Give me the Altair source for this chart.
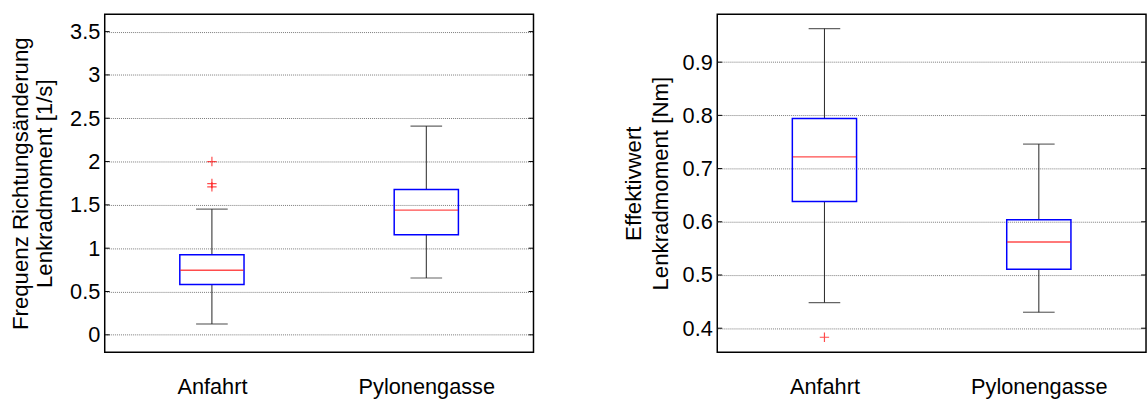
import altair as alt
import pandas as pd

categories = ["Anfahrt", "Pylonengasse"]

# Left panel: Frequenz Richtungsänderung Lenkradmoment [1/s]
freq_whisker_low = [0.125, 0.656]
freq_q1 = [0.580, 1.156]
freq_median = [0.746, 1.440]
freq_q3 = [0.924, 1.678]
freq_whisker_high = [1.451, 2.409]
freq_outlier_cat = ["Anfahrt", "Anfahrt", "Anfahrt"]
freq_outlier_val = [2.00, 1.746, 1.708]
freq_ticks = [0, 0.5, 1, 1.5, 2, 2.5, 3, 3.5]
freq_domain = [-0.2, 3.7]

# Right panel: Effektivwert Lenkradmoment [Nm]
rms_whisker_low = [0.448, 0.430]
rms_q1 = [0.638, 0.511]
rms_median = [0.722, 0.562]
rms_q3 = [0.794, 0.604]
rms_whisker_high = [0.963, 0.746]
rms_outlier_cat = ["Anfahrt"]
rms_outlier_val = [0.383]
rms_ticks = [0.4, 0.5, 0.6, 0.7, 0.8, 0.9]
rms_domain = [0.355, 0.990]

FONT = "Liberation Sans"
W, H = 434, 342
PLUS = "M-1,0H1M0,-1V1"


def panel(lo, q1, med, q3, hi, ocat, oval, ticks, domain, title, line_h, title_pad):
    stats = pd.DataFrame({"cat": categories, "lo": lo, "q1": q1, "med": med, "q3": q3, "hi": hi})
    outl = pd.DataFrame({"cat": ocat, "val": oval})
    tickdf = pd.DataFrame({"t": ticks})

    xenc = alt.X(
        "cat:N",
        scale=alt.Scale(type="point", domain=categories, padding=0.5),
        axis=alt.Axis(title=None, labelAngle=0, ticks=False, domain=False, grid=False,
                      labelPadding=25, labelFontSize=22),
    )
    yscale = alt.Scale(domain=domain, nice=False, zero=False)
    yaxis = alt.Axis(values=ticks, format="~g", title=title, grid=True, ticks=False, domain=False,
                     labelPadding=5, labelFontSize=22, titleFontSize=22.5,
                     titleLineHeight=line_h, titlePadding=title_pad)

    def Y(f):
        return alt.Y(f, type="quantitative", scale=yscale, axis=yaxis)

    base = alt.Chart(stats)
    whisk_low = base.mark_rule(color="#222222", strokeWidth=1).encode(x=xenc, y=Y("lo"), y2="q1")
    whisk_high = base.mark_rule(color="#222222", strokeWidth=1).encode(x=xenc, y=Y("q3"), y2="hi")
    cap_low = base.mark_tick(orient="horizontal", size=32, thickness=1.2, color="#222222").encode(x=xenc, y=Y("lo"))
    cap_high = base.mark_tick(orient="horizontal", size=32, thickness=1.2, color="#222222").encode(x=xenc, y=Y("hi"))
    box = base.mark_bar(size=65, fill="transparent", stroke="#0000ff", strokeWidth=1.5).encode(
        x=xenc, y=Y("q1"), y2="q3")
    median = base.mark_tick(orient="horizontal", size=64, thickness=1.4, color="#ff0000").encode(x=xenc, y=Y("med"))
    outliers = alt.Chart(outl).mark_point(shape=PLUS, size=90, filled=False, color="#ff0000",
                                          strokeWidth=1.2).encode(x=xenc, y=Y("val"))
    tick_l = alt.Chart(tickdf).mark_rule(color="black", strokeWidth=1).encode(
        x=alt.value(0), x2=alt.value(5), y=Y("t"))
    tick_r = alt.Chart(tickdf).mark_rule(color="black", strokeWidth=1).encode(
        x=alt.value(W - 5), x2=alt.value(W), y=Y("t"))

    return alt.layer(whisk_low, whisk_high, cap_low, cap_high, box, median, outliers, tick_l, tick_r).properties(
        width=W, height=H)


left = panel(freq_whisker_low, freq_q1, freq_median, freq_q3, freq_whisker_high,
             freq_outlier_cat, freq_outlier_val, freq_ticks, freq_domain,
             ["Frequenz Richtungsänderung", "Lenkradmoment [1/s]"], 25, 13)
right = panel(rms_whisker_low, rms_q1, rms_median, rms_q3, rms_whisker_high,
              rms_outlier_cat, rms_outlier_val, rms_ticks, rms_domain,
              ["Effektivwert", "Lenkradmoment [Nm]"], 27, 10)

chart = alt.hconcat(left, right, spacing=186, bounds="flush").properties(
    padding={"left": 8, "top": 11, "right": 0, "bottom": 0},
    background="white",
).configure_view(stroke="black", strokeWidth=1.5).configure_axis(
    labelFont=FONT, titleFont=FONT, labelColor="black", titleColor="black",
    titleFontWeight="normal", gridColor="#7a7a7a", gridDash=[1, 1], gridWidth=1,
)

chart.save("out.html", embed_options={"renderer": "svg", "actions": False})
